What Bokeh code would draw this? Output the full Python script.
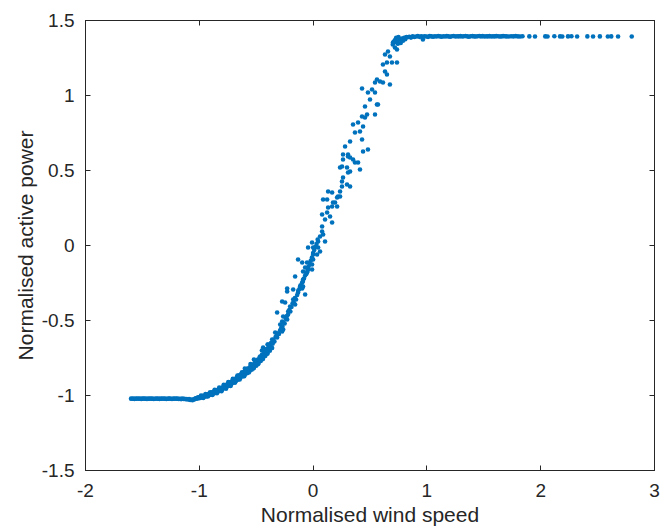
from bokeh.plotting import figure
from bokeh.models import (Range1d, FixedTicker, LinearAxis, CustomJSTickFormatter,
                          ColumnDataSource, CustomLabelingPolicy)
from bokeh.embed import file_html
from bokeh.resources import INLINE

# ---- data ----
x_ticks = [-2, -1, 0, 1, 2, 3]
y_ticks = [-1.5, -1, -0.5, 0, 0.5, 1, 1.5]

low_x = [-1.60,-1.59,-1.58,-1.57,-1.56,-1.55,-1.54,-1.53,-1.52,-1.51,
         -1.50,-1.49,-1.48,-1.47,-1.46,-1.45,-1.44,-1.43,-1.42,-1.41,
         -1.40,-1.39,-1.38,-1.37,-1.36,-1.35,-1.34,-1.33,-1.32,-1.31,
         -1.30,-1.29,-1.28,-1.27,-1.26,-1.25,-1.24,-1.23,-1.22,-1.21,
         -1.20,-1.19,-1.18,-1.17,-1.16,-1.15,-1.14,-1.13,-1.12,-1.11,
         -1.10,-1.09,-1.08,-1.07,-1.06,-1.05]
low_y = [-1.021,-1.022,-1.020,-1.023,-1.021,-1.022,-1.020,-1.022,-1.021,-1.023,
         -1.021,-1.020,-1.022,-1.021,-1.023,-1.021,-1.022,-1.020,-1.022,-1.021,
         -1.023,-1.022,-1.020,-1.022,-1.021,-1.023,-1.021,-1.022,-1.020,-1.022,
         -1.021,-1.023,-1.022,-1.021,-1.020,-1.022,-1.023,-1.021,-1.022,-1.020,
         -1.022,-1.021,-1.023,-1.022,-1.024,-1.021,-1.023,-1.022,-1.025,-1.023,
         -1.026,-1.024,-1.030,-1.027,-1.032,-1.026]

band_x = [-1.04,-1.03,-1.02,-1.01,-1.00,-0.99,-0.98,-0.97,-0.96,-0.95,
          -0.94,-0.93,-0.92,-0.91,-0.90,-0.89,-0.88,-0.87,-0.86,-0.85,
          -0.84,-0.83,-0.82,-0.81,-0.80,-0.79,-0.78,-0.77,-0.76,-0.75,
          -0.74,-0.73,-0.72,-0.71,-0.70,-0.69,-0.68,-0.67,-0.66,-0.65,
          -0.64,-0.63,-0.62,-0.61,-0.60,-0.59,-0.58,-0.57,-0.56,-0.55,
          -0.54,-0.53,-0.52,-0.51,-0.50,-0.49,-0.48,-0.47,-0.46,-0.45,
          -0.44,-0.43,-0.42,-0.41,-0.40,-0.39,-0.38,-0.37,-0.36,-0.35,
          -1.035,-1.015,-0.995,-0.975,-0.955,-0.935,-0.915,-0.895,-0.875,-0.855,
          -0.835,-0.815,-0.795,-0.775,-0.755,-0.735,-0.715,-0.695,-0.675,-0.655,
          -0.635,-0.615,-0.595,-0.575,-0.555,-0.535,-0.515,-0.495,-0.475,-0.455,
          -0.435,-0.415,-0.395,-0.375,-0.355,
          -0.60,-0.52,-0.45,-0.40,-0.55,
          -0.985,-0.965,-0.945,-0.925,-0.905,-0.885,-0.865,-0.845,-0.825,-0.805,
          -0.785,-0.765,-0.745,-0.725,-0.705,-0.685,-0.665,-0.645,-0.625,-0.605,
          -0.585,-0.565,-0.545,-0.525,-0.505,-0.485,-0.465,-0.445,-0.425,-0.405,
          -0.385,-0.365]
band_y = [-1.025,-1.018,-1.022,-1.012,-1.018,-1.008,-1.015,-1.002,-1.010,-0.998,
          -1.006,-0.992,-1.001,-0.986,-0.995,-0.979,-0.990,-0.972,-0.983,-0.966,
          -0.976,-0.957,-0.968,-0.950,-0.961,-0.941,-0.952,-0.931,-0.944,-0.922,
          -0.935,-0.912,-0.926,-0.901,-0.915,-0.890,-0.905,-0.878,-0.894,-0.866,
          -0.884,-0.855,-0.873,-0.843,-0.862,-0.832,-0.851,-0.819,-0.840,-0.806,
          -0.828,-0.793,-0.815,-0.778,-0.801,-0.762,-0.786,-0.745,-0.770,-0.728,
          -0.755,-0.710,-0.737,-0.690,-0.720,-0.670,-0.702,-0.650,-0.683,-0.628,
          -1.020,-1.016,-1.012,-1.007,-1.004,-0.997,-0.994,-0.988,-0.981,-0.974,
          -0.966,-0.959,-0.950,-0.942,-0.932,-0.923,-0.912,-0.902,-0.891,-0.880,
          -0.869,-0.858,-0.847,-0.835,-0.823,-0.809,-0.795,-0.781,-0.765,-0.749,
          -0.731,-0.714,-0.695,-0.675,-0.655,
          -0.820,-0.760,-0.700,-0.660,-0.790,
          -1.000,-1.016,-0.990,-1.006,-0.978,-0.997,-0.962,-0.985,-0.947,-0.972,
          -0.929,-0.955,-0.910,-0.936,-0.889,-0.914,-0.867,-0.893,-0.845,-0.871,
          -0.823,-0.847,-0.799,-0.820,-0.772,-0.791,-0.741,-0.758,-0.705,-0.722,
          -0.667,-0.683]

mid_x = [-0.34,-0.33,-0.32,-0.31,-0.30,-0.29,-0.28,-0.27,-0.26,-0.25,
         -0.24,-0.23,-0.22,-0.21,-0.20,-0.19,-0.18,-0.17,-0.16,-0.15,
         -0.14,-0.13,-0.12,-0.11,-0.10,-0.09,-0.08,-0.07,-0.06,-0.05,
         -0.04,-0.03,-0.02,-0.01,0.00,0.01,0.02,0.03,0.04,
         -0.439,-0.395,-0.377,-0.360,
         -0.316,-0.333,-0.272,-0.263,-0.289,-0.272,-0.228,-0.263,-0.316,-0.219,
         -0.202,-0.158,-0.272,-0.246,-0.175,-0.228,-0.175,-0.132,-0.070,-0.096,-0.088,
         -0.228,-0.158,-0.096,-0.114,-0.088,-0.070,-0.088,-0.053,-0.044,-0.009,
         -0.132,-0.096,-0.053,-0.009,0.000,0.000,0.035,-0.044,0.000,0.044,
         0.061,-0.009,0.044,0.105,0.061,0.088,0.079,0.079,0.105,0.167,
         0.149,0.079,0.123,0.211,0.175,0.088,
         0.132,0.167,0.193,0.123,0.211,0.237,0.167,0.132,0.237,0.254,
         0.298,0.325,0.254,0.263,0.307,0.325,0.237,0.254,0.298,0.412,
         0.368,0.263,0.351,0.325,0.263,0.307,0.281,0.325,0.430,0.368,
         0.412,0.482,0.439,0.351,0.395,0.439,
         0.456,0.430,0.474,0.561,0.456,0.500,0.518,0.430,0.482,0.544,
         0.544,0.561,0.588,0.614,0.675,0.632,0.649,0.614,0.649,0.693,
         0.737,0.658,0.632,0.675,0.702,0.719,0.737,0.544,0.570,0.307,
         0.395,0.219,
         0.70,0.71,0.72,0.725,0.73,0.74,0.745,0.75,0.76,0.77,
         0.78,0.79,0.80,0.81,0.82]
mid_y = [-0.640,-0.610,-0.600,-0.585,-0.590,-0.565,-0.550,-0.540,-0.515,-0.520,
         -0.490,-0.470,-0.460,-0.430,-0.440,-0.410,-0.385,-0.380,-0.350,-0.360,
         -0.330,-0.300,-0.290,-0.265,-0.270,-0.240,-0.220,-0.200,-0.190,-0.170,
         -0.140,-0.120,-0.100,-0.080,-0.050,-0.030,-0.010,0.010,0.040,
         -0.680,-0.660,-0.680,-0.627,
         -0.613,-0.580,-0.573,-0.560,-0.527,-0.507,-0.493,-0.473,-0.447,-0.440,
         -0.407,-0.393,-0.373,-0.380,-0.360,-0.307,-0.293,-0.313,-0.327,-0.247,-0.273,
         -0.287,-0.207,-0.287,-0.273,-0.227,-0.147,-0.173,-0.180,-0.160,-0.160,
         -0.093,-0.113,-0.113,-0.127,-0.093,-0.060,-0.060,-0.013,-0.013,-0.013,
         -0.040,0.020,0.027,0.027,0.060,0.073,0.093,0.127,0.173,0.153,
         0.193,0.207,0.220,0.260,0.287,0.307,
         0.253,0.260,0.287,0.307,0.320,0.327,0.353,0.360,0.360,0.393,
         0.407,0.393,0.427,0.453,0.487,0.493,0.520,0.527,0.520,0.507,
         0.553,0.573,0.573,0.587,0.607,0.607,0.660,0.693,0.707,0.753,
         0.760,0.640,0.627,0.807,0.820,0.793,
         0.853,0.860,0.873,0.940,0.927,0.973,1.040,1.047,1.020,1.020,
         1.087,1.107,1.093,1.087,1.073,1.160,1.140,1.207,1.220,1.220,
         1.220,1.293,1.273,1.260,1.353,1.320,1.307,0.873,0.940,0.593,
         0.553,0.327,
         1.340,1.360,1.370,1.355,1.385,1.360,1.345,1.390,1.375,1.350,
         1.380,1.365,1.385,1.375,1.390]

top_x = [0.83,0.845,0.86,0.875,0.89,0.905,0.92,0.935,0.95,0.965,
         0.98,0.995,1.01,1.025,1.04,1.055,1.07,1.085,1.10,1.115,
         1.13,1.145,1.16,1.175,1.19,1.205,1.22,1.235,1.25,1.265,
         1.28,1.295,1.31,1.325,1.34,1.355,1.37,1.385,1.40,1.415,
         1.43,1.445,1.46,1.475,1.49,1.505,1.52,1.535,1.55,1.565,
         1.58,1.595,1.61,1.625,1.64,1.655,1.67,1.685,1.70,1.72,
         1.74,1.76,1.78,1.80,1.82,1.84,
         0.965,1.90,1.95,2.04,2.06,2.12,2.17,2.19,2.24,2.27,
         2.32,2.41,2.46,2.52,2.59,2.62,2.68,2.80]
top_y = [1.388,1.392,1.386,1.394,1.390,1.393,1.396,1.391,1.394,1.392,
         1.395,1.393,1.391,1.396,1.394,1.392,1.395,1.393,1.397,1.394,
         1.392,1.395,1.393,1.396,1.394,1.392,1.395,1.397,1.393,1.395,
         1.394,1.396,1.393,1.395,1.397,1.394,1.392,1.395,1.396,1.394,
         1.393,1.395,1.397,1.394,1.396,1.393,1.395,1.394,1.396,1.393,
         1.395,1.394,1.396,1.395,1.393,1.394,1.396,1.395,1.394,1.393,
         1.395,1.394,1.396,1.394,1.393,1.395,
         1.373,1.394,1.393,1.394,1.393,1.395,1.394,1.393,1.394,1.395,
         1.393,1.394,1.393,1.394,1.393,1.394,1.393,1.393]

xs = low_x + band_x + mid_x + top_x
ys = low_y + band_y + mid_y + top_y
src = ColumnDataSource(dict(x=xs, y=ys))

FONT = "Liberation Sans"
INK = "#262626"

p = figure(width=670, height=529,
           x_range=Range1d(-2, 3), y_range=Range1d(-1.5, 1.5),
           output_backend="svg", toolbar_location=None,
           min_border_left=85, min_border_right=16,
           min_border_top=20, min_border_bottom=59)
p.xgrid.visible = False
p.ygrid.visible = False
p.outline_line_color = INK
p.outline_line_width = 1
p.background_fill_color = "white"

p.scatter("x", "y", source=src, marker="circle", size=4.6,
          fill_color="#0072BD", line_color=None)

fmt = CustomJSTickFormatter(code="return tick.toString();")
no_labels = CustomLabelingPolicy(code="""
const all = Array.from(indices);
for (const i of all) indices.unset(i);
return indices;
""")

def style_axis(ax, ticks, show_labels):
    ax.ticker = FixedTicker(ticks=ticks)
    ax.formatter = fmt
    ax.axis_line_color = INK
    ax.axis_line_width = 1
    ax.major_tick_line_color = INK
    ax.major_tick_in = 5
    ax.major_tick_out = 0
    ax.minor_tick_line_color = None
    ax.major_label_text_font = FONT
    ax.major_label_text_color = INK
    if show_labels:
        ax.major_label_text_font_size = "19px"
        ax.axis_label_text_font = FONT
        ax.axis_label_text_font_size = "21px"
        ax.axis_label_text_font_style = "normal"
        ax.axis_label_text_color = INK
    else:
        ax.major_label_text_font_size = "2px"
        ax.major_label_standoff = 0
        ax.major_label_policy = no_labels

p.xaxis.axis_label = "Normalised wind speed"
p.yaxis.axis_label = "Normalised active power"
style_axis(p.xaxis[0], x_ticks, True)
style_axis(p.yaxis[0], y_ticks, True)
p.xaxis.major_label_standoff = 13
p.xaxis.axis_label_standoff = 3
p.yaxis.major_label_standoff = 11
p.yaxis.axis_label_standoff = 2

top_ax = LinearAxis()
right_ax = LinearAxis()
style_axis(top_ax, x_ticks, False)
style_axis(right_ax, y_ticks, False)
p.add_layout(top_ax, "above")
p.add_layout(right_ax, "right")

open("out.html", "w").write(file_html(p, INLINE))
